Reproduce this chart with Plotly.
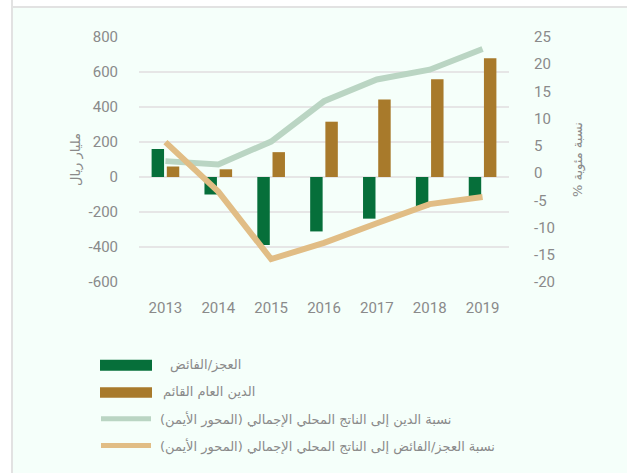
import plotly.graph_objects as go

years = ["2013", "2014", "2015", "2016", "2017", "2018", "2019"]
balance = [160, -100, -389, -311, -238, -174, -131]          # العجز/الفائض (مليار ريال)
debt = [60, 44, 142, 316, 443, 558, 678]                     # الدين العام القائم (مليار ريال)
debt_gdp = [2.2, 1.6, 5.8, 13.2, 17.2, 19.0, 22.8]           # % (المحور الأيمن)
balance_gdp = [5.7, -3.4, -15.8, -12.8, -9.2, -5.7, -4.4]    # % (المحور الأيمن)

names = [
    "العجز/الفائض",
    "الدين العام القائم",
    "نسبة الدين إلى الناتج المحلي الإجمالي (المحور الأيمن)",
    "نسبة العجز/الفائض إلى الناتج المحلي الإجمالي (المحور الأيمن)",
]
left_title = "مليار ريال"
right_title = "نسبة مئوية %"
left_ticks = [-600, -400, -200, 0, 200, 400, 600, 800]
right_ticks = [-20, -15, -10, -5, 0, 5, 10, 15, 20, 25]

RLM = "\u200f"

C_GREEN = "#066F3A"
C_BROWN = "#A87A2B"
C_LGREEN = "#BAD5C3"
C_TAN = "#E1BD85"
C_TEXT = "#8A8A8A"
C_GRID = "#E6E6E6"
C_FRAME = "#E2E2E2"
BG = "#F5FFFA"

# page body adds an 8px offset; work in figure pixels = screen pixels - 8
OFF = 8
W, H = 627 - OFF, 473 - OFF
L, R, T, B = 139 - OFF, 509 - OFF, 37.3 - OFF, 282.3 - OFF
PW, PH = R - L, B - T


def px(x):
    return (x - OFF - L) / PW


def py(y):
    return (B - (y - OFF)) / PH


fig = go.Figure()
fig.add_trace(go.Bar(x=years, y=balance, name=names[0], marker_color=C_GREEN,
                     marker_line_width=0, yaxis="y"))
fig.add_trace(go.Bar(x=years, y=debt, name=names[1], marker_color=C_BROWN,
                     marker_line_width=0, yaxis="y"))
fig.add_trace(go.Scatter(x=years, y=debt_gdp, name=names[2], mode="lines",
                         line=dict(color=C_LGREEN, width=6), yaxis="y2"))
fig.add_trace(go.Scatter(x=years, y=balance_gdp, name=names[3], mode="lines",
                         line=dict(color=C_TAN, width=6), yaxis="y2"))

tickfont = dict(family="Roboto, DejaVu Sans, sans-serif", size=15, color=C_TEXT)
arfont = dict(family="DejaVu Sans, sans-serif", size=13, color=C_TEXT)

shapes = [
    # white strip and thin grey frame on the left
    dict(type="rect", xref="paper", yref="paper", layer="below",
         x0=px(-20), x1=px(11), y0=py(-20), y1=py(H + 40),
         fillcolor="white", line_width=0),
    dict(type="line", xref="paper", yref="paper", layer="below",
         x0=px(12), x1=px(12), y0=py(OFF - 2), y1=py(H + 40),
         line=dict(color=C_FRAME, width=2)),
    # legend symbols
    dict(type="rect", xref="paper", yref="paper", x0=px(100), x1=px(152),
         y0=py(360), y1=py(371), fillcolor=C_GREEN, line_width=0),
    dict(type="rect", xref="paper", yref="paper", x0=px(100), x1=px(152),
         y0=py(387.5), y1=py(398), fillcolor=C_BROWN, line_width=0),
    dict(type="line", xref="paper", yref="paper", x0=px(101), x1=px(151),
         y0=py(419), y1=py(419), line=dict(color=C_LGREEN, width=5)),
    dict(type="line", xref="paper", yref="paper", x0=px(101), x1=px(151),
         y0=py(445.7), y1=py(445.7), line=dict(color=C_TAN, width=5)),
]

legend_pos = [(168, 365.7), (161, 392.5), (158, 420), (158, 446.5)]
annotations = [
    dict(text=n + RLM, xref="paper", yref="paper", x=px(x0), y=py(y0), xanchor="left",
         yanchor="middle", showarrow=False, font=arfont)
    for n, (x0, y0) in zip(names, legend_pos)
]

fig.update_layout(
    width=W, height=H,
    margin=dict(l=L, r=W - R, t=T, b=H - B, pad=0),
    paper_bgcolor=BG, plot_bgcolor="rgba(0,0,0,0)",
    barmode="group", bargap=0.425, bargroupgap=0.18,
    showlegend=False,
    xaxis=dict(type="category", tickfont=tickfont, showgrid=False, showline=False,
               ticks="outside", ticklen=12, tickcolor="rgba(0,0,0,0)", zeroline=False,
               automargin=False),
    yaxis=dict(range=[-600, 800], tickvals=left_ticks,
               ticktext=[str(v) for v in left_ticks], tickfont=tickfont,
               showgrid=True, gridcolor=C_GRID, gridwidth=2, zeroline=False,
               ticks="outside", ticklen=17, tickcolor="rgba(0,0,0,0)",
               automargin=False,
               title=dict(text=left_title + RLM, font=arfont, standoff=5)),
    yaxis2=dict(range=[-20, 25], tickvals=right_ticks,
                ticktext=[str(v) for v in right_ticks], tickfont=tickfont,
                overlaying="y", side="right", showgrid=False, zeroline=False,
                ticks="outside", ticklen=21, tickcolor="rgba(0,0,0,0)",
                automargin=False,
                title=dict(text=right_title + RLM, font=arfont, standoff=18)),
    shapes=shapes,
    annotations=annotations,
)

# page background around the figure: white margin + thin frame, mint elsewhere
page_bg = (
    "linear-gradient(to right, white 0 11px, {f} 11px 13px, transparent 13px),"
    "linear-gradient(to bottom, white 0 6px, {f} 6px 8px, {bg} 8px)"
).format(f=C_FRAME, bg=BG)
post = (
    "document.documentElement.style.background = '%s';"
    "document.documentElement.style.minHeight = '100%%';"
    "document.body.style.overflow = 'hidden';" % page_bg
)

fig.write_html("out.html", post_script=post)
